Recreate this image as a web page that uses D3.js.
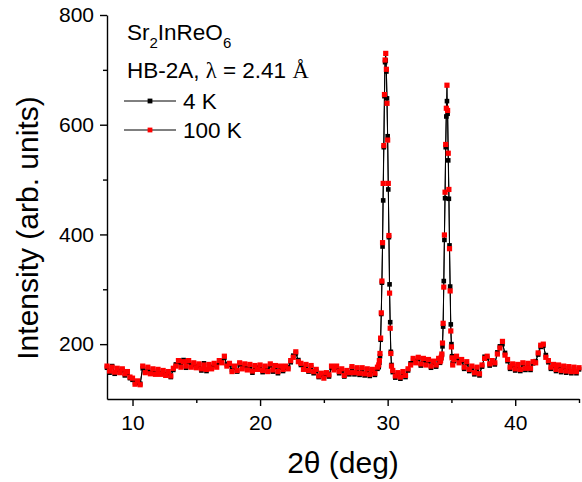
<!DOCTYPE html>
<html>
<head>
<meta charset="utf-8">
<script src="https://cdn.jsdelivr.net/npm/d3@7"></script>
<style>
  body { margin: 0; background: #fff; }
  svg { display: block; }
  text { font-family: Arial, "Liberation Sans", sans-serif; fill: #000; }
</style>
</head>
<body>
<div id="chart"></div>
<script>
// scan positions (deg): coarse on the background, fine through the two peaks
const twoTheta = [
  8.0, 8.2, 8.4, 8.6, 8.8, 9.0, 9.2, 9.4, 9.6, 9.8,
  10.0, 10.2, 10.4, 10.6, 10.8, 11.0, 11.2, 11.4, 11.6, 11.8,
  12.0, 12.2, 12.4, 12.6, 12.8, 13.0, 13.2, 13.4, 13.6, 13.8,
  14.0, 14.2, 14.4, 14.6, 14.8, 15.0, 15.2, 15.4, 15.6, 15.8,
  16.0, 16.2, 16.4, 16.6, 16.8, 17.0, 17.2, 17.4, 17.6, 17.8,
  18.0, 18.2, 18.4, 18.6, 18.8, 19.0, 19.2, 19.4, 19.6, 19.8,
  20.0, 20.2, 20.4, 20.6, 20.8, 21.0, 21.2, 21.4, 21.6, 21.8,
  22.0, 22.2, 22.4, 22.6, 22.8, 23.0, 23.2, 23.4, 23.6, 23.8,
  24.0, 24.2, 24.4, 24.6, 24.8, 25.0, 25.2, 25.4, 25.6, 25.8,
  26.0, 26.2, 26.4, 26.6, 26.8, 27.0, 27.2, 27.4, 27.6, 27.8,
  28.0, 28.2, 28.4, 28.6, 28.8, 29.0, 29.2,
  29.30, 29.35, 29.40, 29.45, 29.50, 29.55, 29.60, 29.65, 29.70, 29.75,
  29.80, 29.85, 29.90, 29.95, 30.00, 30.05, 30.10, 30.15, 30.20, 30.25, 30.30,
  30.4, 30.6, 30.8, 31.0, 31.2, 31.4, 31.6, 31.8, 32.0, 32.2,
  32.4, 32.6, 32.8, 33.0, 33.2, 33.4, 33.6, 33.8, 34.0,
  34.10, 34.15, 34.20, 34.25, 34.30, 34.35, 34.40, 34.45, 34.50, 34.55,
  34.60, 34.65, 34.70, 34.75, 34.80, 34.85, 34.90, 34.95, 35.00, 35.05, 35.10,
  35.2, 35.4, 35.6, 35.8, 36.0, 36.2, 36.4, 36.6, 36.8, 37.0,
  37.2, 37.4, 37.6, 37.8, 38.0, 38.2, 38.4, 38.6, 38.8, 39.0,
  39.2, 39.4, 39.6, 39.8, 40.0, 40.2, 40.4, 40.6, 40.8, 41.0,
  41.2, 41.4, 41.6, 41.8, 42.0, 42.2, 42.4, 42.6, 42.8, 43.0,
  43.2, 43.4, 43.6, 43.8, 44.0, 44.2, 44.4, 44.6, 44.8, 45.0
];

const intensity4K = [
  157, 148, 160, 146, 153, 150, 152, 143, 147, 138,
  135, 130, 129, 128, 156, 150, 155, 148, 152, 147,
  151, 147, 149, 145, 147, 140, 153, 163, 167, 161,
  171, 157, 167, 160, 163, 159, 161, 152, 165, 151,
  160, 158, 162, 161, 167, 169, 175, 163, 162, 153,
  157, 150, 163, 158, 161, 156, 160, 148, 158, 157,
  159, 149, 157, 152, 161, 150, 158, 147, 157, 151,
  157, 158, 167, 179, 183, 171, 162, 157, 160, 150,
  158, 147, 151, 140, 144, 141, 145, 141, 157, 156,
  157, 147, 152, 141, 149, 145, 156, 145, 154, 144,
  154, 143, 152, 142, 151, 144, 155,
  158, 166, 178, 208, 255, 312, 378, 462, 559, 652,
  714, 717, 697, 648, 579, 482, 395, 309, 240, 186, 162,
  149, 139, 145, 137, 147, 140, 152, 165, 171, 169,
  173, 161, 171, 165, 169, 157, 166, 159, 171,
  166, 172, 174, 180, 196, 232, 315, 390, 466, 559,
  615, 643, 620, 535, 465, 380, 305, 236, 200, 178, 165,
  169, 175, 169, 169, 155, 165, 151, 157, 145, 155,
  143, 159, 177, 175, 161, 167, 163, 185, 196, 200,
  184, 169, 155, 161, 152, 160, 151, 163, 153, 162,
  153, 165, 169, 181, 195, 197, 180, 167, 155, 160,
  151, 159, 149, 157, 148, 156, 147, 155, 147, 154
];

const intensity100K = [
  160, 151, 158, 149, 156, 148, 155, 146, 150, 140,
  138, 127, 133, 126, 160, 148, 158, 146, 155, 145,
  154, 145, 152, 143, 150, 142, 156, 160, 170, 158,
  168, 160, 170, 158, 166, 157, 164, 155, 162, 154,
  163, 155, 165, 158, 170, 166, 178, 160, 165, 150,
  160, 152, 166, 155, 164, 153, 163, 151, 161, 154,
  162, 152, 160, 150, 164, 153, 161, 150, 160, 154,
  160, 155, 170, 176, 186, 168, 165, 154, 163, 152,
  161, 150, 154, 142, 147, 138, 148, 144, 160, 153,
  160, 150, 155, 143, 152, 148, 159, 148, 157, 147,
  157, 146, 155, 145, 154, 147, 158,
  162, 170, 183, 211, 257, 315, 385, 493, 562, 655,
  718, 730, 701, 639, 572, 493, 398, 293, 229, 183, 160,
  152, 142, 148, 140, 150, 143, 155, 162, 174, 166,
  176, 164, 174, 162, 172, 160, 169, 162, 174,
  168, 170, 176, 182, 202, 238, 304, 399, 477, 564,
  630, 672, 626, 548, 482, 374, 297, 224, 195, 175, 162,
  172, 178, 166, 172, 158, 168, 154, 160, 148, 158,
  146, 162, 174, 178, 164, 170, 166, 182, 193, 205,
  180, 172, 158, 164, 155, 163, 154, 166, 156, 165,
  156, 168, 166, 184, 198, 200, 176, 170, 158, 163,
  154, 162, 152, 160, 151, 159, 150, 158, 150, 157
];

const xTicks = [10, 20, 30, 40];
const xMinorTicks = [15, 25, 35, 45];
const yTicks = [200, 400, 600, 800];
const yMinorTicks = [300, 500, 700];

const series = [
  { label: "4 K", values: intensity4K, color: "#000000", size: 4.6 },
  { label: "100 K", values: intensity100K, color: "#ff0000", size: 5.2 }
];

const width = 582, height = 482;
const margin = { top: 15, right: 3, bottom: 83, left: 107 };

const svg = d3.select("#chart").append("svg")
  .attr("width", width)
  .attr("height", height);

const x = d3.scaleLinear().domain([8, 45]).range([margin.left, width - margin.right]);
const y = d3.scaleLinear().domain([100, 800]).range([height - margin.bottom, margin.top]);

// axes
const xAxis = svg.append("g")
  .attr("transform", `translate(0,${y(100)})`)
  .call(d3.axisBottom(x).tickValues(xTicks).tickSize(7).tickSizeOuter(0));
xAxis.selectAll("text").attr("dy", null).attr("y", 31).style("font-size", "21px");

svg.append("g")
  .attr("transform", `translate(0,${y(100)})`)
  .call(d3.axisBottom(x).tickValues(xMinorTicks).tickSize(4).tickFormat(""))
  .select(".domain").remove();

const yAxis = svg.append("g")
  .attr("transform", `translate(${x(8)},0)`)
  .call(d3.axisLeft(y).tickValues(yTicks).tickSize(7).tickPadding(6).tickSizeOuter(0));
yAxis.selectAll("text").style("font-size", "21px");

svg.append("g")
  .attr("transform", `translate(${x(8)},0)`)
  .call(d3.axisLeft(y).tickValues(yMinorTicks).tickSize(4).tickFormat(""))
  .select(".domain").remove();

svg.selectAll(".domain, .tick line").attr("stroke", "#000").attr("stroke-width", 1.4);
svg.selectAll(".tick text").attr("fill", "#000");

// axis titles
svg.append("text")
  .attr("x", 343).attr("y", 473)
  .attr("text-anchor", "middle")
  .style("font-size", "30px")
  .text("2θ (deg)");

svg.append("text")
  .attr("transform", "translate(38,228) rotate(-90)")
  .attr("text-anchor", "middle")
  .style("font-size", "30px")
  .text("Intensity (arb. units)");

// data
const line = d3.line()
  .x(d => x(d.t))
  .y(d => y(d.v));

series.forEach(s => {
  const pts = twoTheta.map((t, i) => ({ t: t, v: s.values[i] }));
  const g = svg.append("g");
  g.append("path")
    .datum(pts)
    .attr("fill", "none")
    .attr("stroke", "#000")
    .attr("stroke-width", 1)
    .attr("d", line);
  g.selectAll("rect")
    .data(pts)
    .enter()
    .append("rect")
    .attr("x", d => x(d.t) - s.size / 2)
    .attr("y", d => y(d.v) - s.size / 2)
    .attr("width", s.size)
    .attr("height", s.size)
    .attr("fill", s.color);
});

// legend / annotation
const serif = "'Liberation Serif', 'Times New Roman', serif";

const title = svg.append("text")
  .attr("x", 127).attr("y", 40)
  .style("font-size", "22.5px");
title.append("tspan").text("Sr");
title.append("tspan").attr("dy", 8).style("font-size", "15px").text("2");
title.append("tspan").attr("dy", -8).text("InReO");
title.append("tspan").attr("dy", 8).style("font-size", "15px").text("6");

const info = svg.append("text")
  .attr("x", 127).attr("y", 78)
  .style("font-size", "22.5px");
info.append("tspan").text("HB-2A, ");
info.append("tspan").style("font-family", serif).text("λ");
info.append("tspan").text(" = 2.41 ");
info.append("tspan").style("font-family", serif).text("Å");

const legendRows = [101, 130];
series.forEach((s, i) => {
  const ly = legendRows[i];
  svg.append("line")
    .attr("x1", 124).attr("x2", 176)
    .attr("y1", ly).attr("y2", ly)
    .attr("stroke", "#000")
    .attr("stroke-width", 1);
  svg.append("rect")
    .attr("x", 150 - 2.4).attr("y", ly - 2.4)
    .attr("width", 4.8).attr("height", 4.8)
    .attr("fill", s.color);
  svg.append("text")
    .attr("x", 183).attr("y", ly + 8)
    .style("font-size", "22.5px")
    .text(s.label);
});
</script>
</body>
</html>
